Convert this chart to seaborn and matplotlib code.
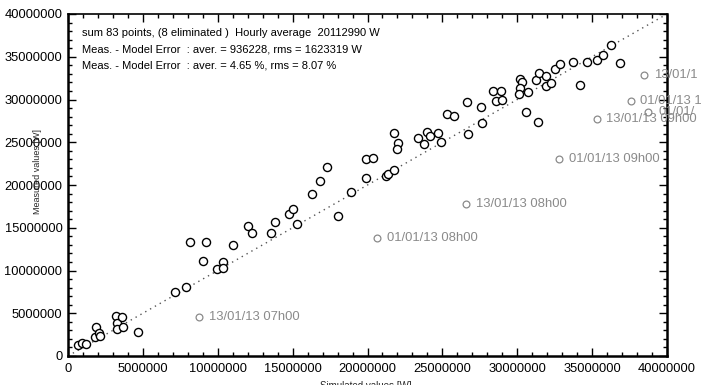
import matplotlib
matplotlib.use("Agg")
import matplotlib.pyplot as plt
import seaborn as sns
import pandas as pd
from matplotlib.ticker import MultipleLocator, FuncFormatter

# ---- data (millions of W) ----
sim_kept = [0.69, 0.96, 1.18, 1.80, 1.87, 2.09, 2.14, 3.19, 3.25, 3.25, 3.59, 3.69, 4.70,
            7.15, 7.88, 9.00, 9.93, 10.37, 10.37, 8.15, 9.22, 11.04, 12.00, 12.27, 13.56,
            13.82, 14.76, 15.05, 15.27, 16.27, 16.83, 17.28, 18.05, 18.88, 19.90, 19.90,
            20.39, 21.24, 21.37, 21.79, 21.79, 22.06, 21.95, 23.39, 23.95, 24.17, 23.77,
            24.73, 24.91, 25.29, 25.78, 26.62, 27.56, 27.67, 26.73, 28.36, 28.92, 28.56,
            28.96, 30.18, 30.30, 30.18, 30.12, 30.74, 30.59, 31.37, 31.23, 31.47, 31.92,
            31.92, 32.25, 32.52, 32.85, 33.74, 34.19, 34.64, 35.31, 35.75, 36.26, 36.86]
meas_kept = [1.29, 1.52, 1.44, 2.19, 3.36, 2.73, 2.34, 4.68, 3.90, 3.12, 4.53, 3.43, 2.81,
             7.52, 8.11, 11.15, 10.21, 11.03, 10.29, 13.30, 13.37, 12.98, 15.24, 14.35, 14.35,
             15.71, 16.61, 17.16, 15.44, 18.95, 20.50, 22.07, 16.37, 19.15, 20.78, 23.01,
             23.19, 21.09, 21.29, 21.75, 26.12, 24.88, 24.21, 25.53, 26.23, 25.77, 24.76,
             26.12, 25.06, 28.27, 28.11, 29.67, 29.09, 27.29, 25.93, 30.99, 30.99, 29.83,
             29.94, 32.36, 32.01, 31.31, 30.64, 30.91, 28.50, 27.33, 32.28, 33.14, 32.78,
             31.58, 31.90, 33.57, 34.12, 34.35, 31.70, 34.35, 34.62, 35.21, 36.37, 34.30]

sim_elim = [8.75, 20.63, 26.58, 32.79, 35.31, 37.58, 38.75, 38.49]
meas_elim = [4.56, 13.80, 17.78, 23.04, 27.72, 29.83, 28.57, 32.87]
elim_labels = ["13/01/13 07h00", "01/01/13 08h00", "13/01/13 08h00", "01/01/13 09h00",
               "13/01/13 09h00", "01/01/13 1", "01/01/", "13/01/1"]

diag = [0, 40000000]

info_lines = [
    "sum 83 points, (8 eliminated )  Hourly average  20112990 W",
    "Meas. - Model Error  : aver. = 936228, rms = 1623319 W",
    "Meas. - Model Error  : aver. = 4.65 %, rms = 8.07 %",
]

# ---- build frames ----
kept = pd.DataFrame({"sim": [v * 1e6 for v in sim_kept], "meas": [v * 1e6 for v in meas_kept]})
elim = pd.DataFrame({"sim": [v * 1e6 for v in sim_elim], "meas": [v * 1e6 for v in meas_elim],
                     "label": elim_labels})
line = pd.DataFrame({"x": diag, "y": diag})

sns.set_theme(style="white")
plt.rcParams["font.family"] = ["Liberation Sans", "DejaVu Sans"]

fig = plt.figure(figsize=(7.02, 3.85), dpi=100)
ax = fig.add_axes([68 / 702, 29 / 385, 599 / 702, 342 / 385])

sns.lineplot(data=line, x="x", y="y", ax=ax, color="#555555", linewidth=1.0,
             linestyle=(0, (1, 3)), zorder=1)
sns.scatterplot(data=kept, x="sim", y="meas", ax=ax, marker="o", s=34,
                facecolors="white", edgecolor="black", linewidth=1.0, zorder=3)
sns.scatterplot(data=elim, x="sim", y="meas", ax=ax, marker="o", s=24,
                facecolors="white", edgecolor="#8a8a8a", linewidth=0.9, zorder=3)
for _, r in elim.iterrows():
    ax.annotate(r["label"], (r["sim"], r["meas"]), xytext=(7, 0), textcoords="offset points",
                va="center", ha="left", fontsize=9.4, color="#8a8a8a", clip_on=False,
                annotation_clip=False)

ax.set_xlim(0, 40000000)
ax.set_ylim(0, 40000000)
fmt = FuncFormatter(lambda v, p: f"{int(round(v))}")
for a in (ax.xaxis, ax.yaxis):
    a.set_major_locator(MultipleLocator(5000000))
    a.set_minor_locator(MultipleLocator(1000000))
    a.set_major_formatter(fmt)
ax.tick_params(which="both", direction="in", top=True, right=True, left=True, bottom=True,
               colors="black", labelsize=9.3)
ax.tick_params(which="major", length=6, width=1)
ax.tick_params(which="minor", length=3, width=1)
ax.tick_params(axis="x", pad=5)
ax.tick_params(axis="y", pad=4)

for s in ["left", "bottom", "right"]:
    ax.spines[s].set_linewidth(1.8)
    ax.spines[s].set_color("black")
ax.spines["top"].set_linewidth(1.2)
ax.spines["top"].set_color("black")

ax.set_xlabel("Simulated values [W]", fontsize=7.0, labelpad=0)
ax.set_ylabel("Measured values [W]", fontsize=6.5, labelpad=0)
ax.yaxis.set_label_coords(-0.043, 0.54)
ax.xaxis.set_label_coords(0.497, -0.072)

for i, t in enumerate(info_lines):
    fig.text(82 / 702, 1 - (33 + 16 * i) / 385, t, fontsize=8.05, va="center", ha="left",
             color="black")

fig.savefig("out.png", dpi=100)
